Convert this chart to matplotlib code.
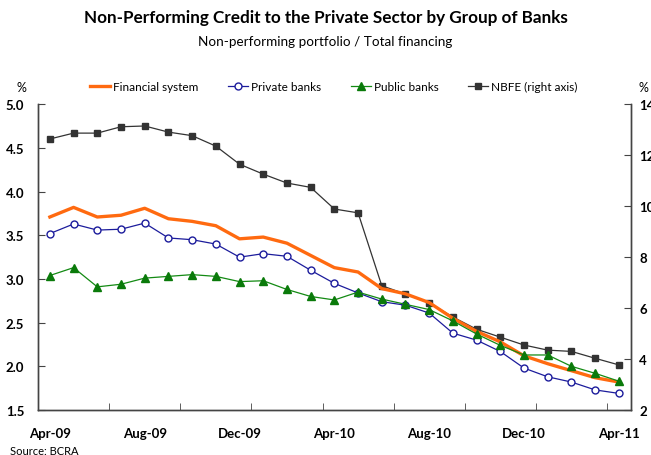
import matplotlib.pyplot as plt
import numpy as np

plt.rcParams['font.family'] = ['Lato', 'DejaVu Sans']

# monthly series, Apr-09 .. Apr-11
months = ['Apr-09', 'May-09', 'Jun-09', 'Jul-09', 'Aug-09', 'Sep-09', 'Oct-09',
          'Nov-09', 'Dec-09', 'Jan-10', 'Feb-10', 'Mar-10', 'Apr-10', 'May-10',
          'Jun-10', 'Jul-10', 'Aug-10', 'Sep-10', 'Oct-10', 'Nov-10', 'Dec-10',
          'Jan-11', 'Feb-11', 'Mar-11', 'Apr-11']

financial_system = [3.71, 3.82, 3.71, 3.73, 3.81, 3.69, 3.66, 3.61, 3.46, 3.48,
                    3.41, 3.27, 3.13, 3.08, 2.89, 2.83, 2.73, 2.55, 2.40, 2.28,
                    2.12, 2.03, 1.95, 1.87, 1.82]
private_banks = [3.52, 3.63, 3.56, 3.57, 3.64, 3.47, 3.45, 3.40, 3.25, 3.29,
                 3.26, 3.10, 2.95, 2.84, 2.74, 2.70, 2.61, 2.38, 2.30, 2.17,
                 1.98, 1.88, 1.82, 1.73, 1.69]
public_banks = [3.04, 3.13, 2.91, 2.94, 3.01, 3.03, 3.05, 3.03, 2.97, 2.98,
                2.88, 2.80, 2.76, 2.85, 2.77, 2.71, 2.65, 2.52, 2.37, 2.24,
                2.13, 2.13, 2.00, 1.92, 1.83]
nbfe = [12.64, 12.87, 12.87, 13.12, 13.15, 12.91, 12.77, 12.36, 11.65, 11.26,
        10.91, 10.74, 9.89, 9.74, 6.88, 6.55, 6.21, 5.65, 5.17, 4.86,
        4.55, 4.35, 4.30, 4.03, 3.77]

x = np.arange(len(months))

fig = plt.figure(figsize=(6.51, 4.56), dpi=100)
ax = fig.add_axes([0.0584, 0.0987, 0.9104, 0.6703])
ax2 = ax.twinx()

# NBFE on the right axis, drawn behind the left-axis series
ax2.plot(x, nbfe, color='#333333', linewidth=0.9, marker='s', markersize=5,
         markerfacecolor='#333333', markeredgecolor='#333333', zorder=2)
ax.set_zorder(ax2.get_zorder() + 1)
ax.patch.set_visible(False)

l_fin, = ax.plot(x, financial_system, color='#FF6A10', linewidth=2.4, zorder=3)
l_priv, = ax.plot(x, private_banks, color='#1C1C9C', linewidth=0.9, marker='o',
                  markersize=5, markerfacecolor='white',
                  markeredgecolor='#1C1C9C', zorder=4)
l_pub, = ax.plot(x, public_banks, color='#138A13', linewidth=0.9, marker='^',
                 markersize=5.5, markerfacecolor='#0A7A0A',
                 markeredgecolor='#0A7A0A', zorder=5)
l_nbfe, = ax.plot([], [], color='#333333', linewidth=0.9, marker='s',
                  markersize=5, markerfacecolor='#333333')

ax.set_xlim(-0.5, len(months) - 0.5)
ax.set_ylim(1.5, 5.0)
ax2.set_ylim(2, 14)

ax.set_yticks(np.arange(1.5, 5.01, 0.5))
ax.set_yticklabels([f'{v:.1f}' for v in np.arange(1.5, 5.01, 0.5)])
ax2.set_yticks(np.arange(2, 15, 2))

# labels every 4 months, tick marks every 3 months between categories
ax.set_xticks(x[::4])
ax.set_xticklabels(months[::4])
ax.set_xticks(np.arange(2.5, len(months) - 1, 3), minor=True)

for a in (ax, ax2):
    a.spines['top'].set_visible(False)
    for s in ('left', 'right', 'bottom'):
        a.spines[s].set_color('#444444')
        a.spines[s].set_linewidth(1.0)

ax.tick_params(axis='x', which='major', length=0, pad=12)
ax.tick_params(axis='x', which='minor', direction='in', length=5, color='#444444')
ax.tick_params(axis='y', direction='in', length=5, pad=10, color='#444444')
ax2.tick_params(axis='y', direction='in', length=5, pad=6, color='#444444')
for lab in ax.get_xticklabels() + ax.get_yticklabels() + ax2.get_yticklabels():
    lab.set_fontweight('bold')
    lab.set_fontsize(9.5)

ax.legend([l_fin, l_priv, l_pub, l_nbfe],
          ['Financial system', 'Private banks', 'Public banks', 'NBFE (right axis)'],
          loc='center left', bbox_to_anchor=(0.0877, 1.0576), ncol=4, frameon=False,
          fontsize=8.5, handlelength=1.7, handletextpad=0.25, columnspacing=2.5,
          borderaxespad=0, borderpad=0)

fig.text(0.0333, 0.8077, '%', fontsize=9, ha='center', va='center')
fig.text(0.9877, 0.8077, '%', fontsize=9, ha='center', va='center')

fig.text(0.5, 0.9605, 'Non-Performing Credit to the Private Sector by Group of Banks',
         ha='center', va='center', fontsize=12.3, fontweight='bold')
fig.text(0.5, 0.9086, 'Non-performing portfolio / Total financing',
         ha='center', va='center', fontsize=9.7)
fig.text(0.015, 0.0094, 'Source: BCRA', fontsize=8, ha='left', va='center')

fig.savefig('out.png', dpi=100)
